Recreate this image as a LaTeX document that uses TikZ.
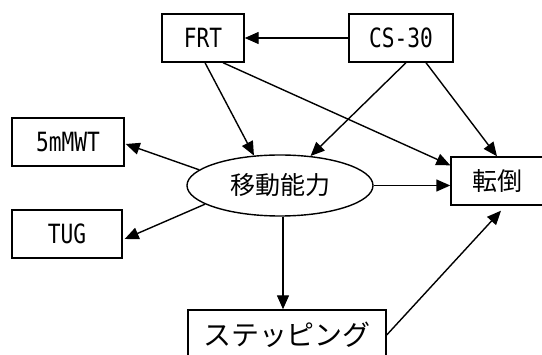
\documentclass[tikz,border=0pt]{standalone}
\usepackage{fontspec}
\newfontfamily\jpfont{Noto Sans CJK JP}
\newfontfamily\latfont{DejaVu Sans Mono}
\usetikzlibrary{arrows.meta,calc,shapes.geometric}
\newcommand{\mylat}[1]{\scalebox{0.8}[1]{\latfont #1}}
\begin{document}
\begin{tikzpicture}[x=1pt,y=-1pt,
  boxnode/.style={draw,line width=1.4pt,rectangle,inner sep=0pt,
    font=\fontsize{26.5}{30}\selectfont},
  ovalnode/.style={draw,line width=1.4pt,ellipse,inner sep=0pt,
    font=\fontsize{25}{30}\selectfont\jpfont},
  arr/.style={line width=1.4pt,-{Triangle[length=14pt,width=12pt]}}]
\useasboundingbox (0,0) rectangle (542,355);
\clip (0,0) rectangle (542,355);
\fill[white] (0,0) rectangle (542,355);
\node[boxnode,minimum width=82pt,minimum height=48pt] (frt) at (203,38) {\mylat{FRT}};
\node[boxnode,minimum width=104pt,minimum height=48pt] (cs) at (401,38) {\mylat{CS-30}};
\node[boxnode,minimum width=112pt,minimum height=48pt] (mwt) at (68,142) {\mylat{5mMWT}};
\node[boxnode,minimum width=110pt,minimum height=48pt] (tug) at (67,234) {\mylat{TUG}};
\node[ovalnode,minimum width=186pt,minimum height=61pt] (mob) at (280,185.5) {移動能力};
\node[boxnode,minimum width=92pt,minimum height=48pt,font=\fontsize{25}{30}\selectfont\jpfont] (fall) at (497,181) {転倒};
\node[boxnode,minimum width=198pt,minimum height=50pt,font=\fontsize{28}{32}\selectfont\jpfont] (step) at (287,335) {ステッピング};
\coordinate (mobs) at ($(mob.south)+(3,0)$);
\draw[arr] (cs.west) -- (frt.east);
\draw[arr] ($(frt.south)+(20,0)$) -- ($(fall.north west)+(0,9)$);
\draw[arr] ($(frt.south)+(2,0)$) -- (mob.131.5);
\draw[arr] ($(cs.south)+(5,0)$) -- (mob.44.5);
\draw[arr] ($(cs.south)+(25,0)$) -- (fall.north);
\draw[arr] (mob.169.7) -- ($(mwt.east)+(1,2)$);
\draw[arr] (mob.194.4) -- ($(tug.east)+(2,5)$);
\draw[arr] (mob.east) -- (mob.east -| fall.west);
\draw[arr] (mobs) -- (mobs |- step.north);
\draw[arr] (step.east) -- ($(fall.south)+(4,5)$);
\end{tikzpicture}
\end{document}
